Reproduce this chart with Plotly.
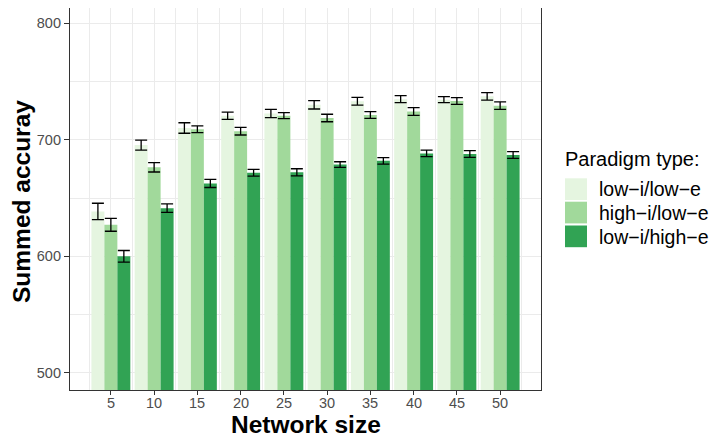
import plotly.graph_objects as go

network_size = [5, 10, 15, 20, 25, 30, 35, 40, 45, 50]
series_names = ["low\u2212i/low\u2212e", "high\u2212i/low\u2212e", "low\u2212i/high\u2212e"]
low_i_low_e = [638.5, 695.4, 710.0, 720.6, 722.5, 729.9, 733.0, 734.7, 734.3, 737.2]
low_i_low_e_se = [7.0, 4.3, 4.5, 3.1, 3.5, 3.6, 3.3, 3.0, 2.6, 3.2]
high_i_low_e = [627.0, 676.3, 708.9, 707.3, 720.6, 718.6, 721.2, 724.2, 733.2, 729.2]
high_i_low_e_se = [5.5, 4.0, 2.9, 3.3, 2.6, 3.2, 2.9, 3.3, 2.9, 3.2]
low_i_high_e = [600.0, 641.3, 662.5, 671.7, 672.0, 678.7, 681.9, 688.2, 687.8, 686.9]
low_i_high_e_se = [5.0, 3.6, 3.5, 2.9, 3.1, 2.4, 2.8, 2.8, 2.9, 2.9]
colors = ["#e5f5e0", "#a1d99b", "#31a354"]
y_ticks = [500, 600, 700, 800]

series = [low_i_low_e, high_i_low_e, low_i_high_e]
ses = [low_i_low_e_se, high_i_low_e_se, low_i_high_e_se]

fig = go.Figure()
for name, vals, se, col in zip(series_names, series, ses, colors):
    fig.add_trace(go.Bar(
        x=network_size, y=vals, name=name, marker=dict(color=col, line=dict(width=0)),
        error_y=dict(type="data", array=se, visible=True, color="black", thickness=1.3, width=6),
        showlegend=False,
    ))

font_family = "Liberation Sans, Arial, sans-serif"
# page has an 8px body margin: figure is 712x431 and positioned accordingly
PH = 382.0  # plot height in px
fig.update_layout(
    width=712, height=431,
    margin=dict(l=62, r=179, t=0, b=49),
    paper_bgcolor="white", plot_bgcolor="white",
    barmode="group", bargap=0.1, bargroupgap=0,
    font=dict(family=font_family, color="#4d4d4d"),
    xaxis=dict(
        range=[0.275, 54.725], tickvals=network_size, showticklabels=False,
        showgrid=True, gridcolor="#ebebeb", gridwidth=1.1,
        minor=dict(tickvals=[2.5 + 5 * i for i in range(11)], showgrid=True, gridcolor="#ebebeb", gridwidth=0.6, ticks=""),
        showline=True, linecolor="#333333", linewidth=1.2, mirror=True,
        ticks="outside", ticklen=4, tickcolor="#333333", tickwidth=1.1,
        zeroline=False,
    ),
    yaxis=dict(
        range=[485.4, 812.9], tickvals=y_ticks,
        showgrid=True, gridcolor="#ebebeb", gridwidth=1.1,
        minor=dict(tickvals=[550, 650, 750], showgrid=True, gridcolor="#ebebeb", gridwidth=0.6, ticks=""),
        showline=True, linecolor="#333333", linewidth=1.2, mirror=True,
        ticks="outside", ticklen=5, tickcolor="#333333", tickwidth=1.1,
        tickfont=dict(size=14.5, color="#4d4d4d"),
        zeroline=False,
    ),
)

# X tick labels placed just under the ticks
for v in network_size:
    fig.add_annotation(xref="x", yref="paper", x=v, y=(PH - 386) / PH,
                       text=str(v), showarrow=False, xanchor="center", yanchor="top",
                       borderpad=0,
                       font=dict(size=14.5, color="#4d4d4d", family=font_family))

# Axis titles
fig.add_annotation(xref="paper", yref="paper", x=0.5, y=(PH - 417) / PH,
                   text="<b>Network size</b>", showarrow=False, xanchor="center", yanchor="middle",
                   borderpad=0,
                   font=dict(size=24.5, color="black", family=font_family))
fig.add_annotation(xref="paper", yref="paper", x=(13 - 62) / 471, y=(PH - 194) / PH,
                   text="<b>Summed accuray</b>", showarrow=False, textangle=-90,
                   xanchor="center", yanchor="middle", borderpad=0,
                   font=dict(size=24.5, color="black", family=font_family))

# Legend drawn manually (ggplot-style keys)
fig.add_annotation(xref="paper", yref="paper", x=(563 - 70) / 471, y=(390 - 159) / PH,
                   text="Paradigm type:", showarrow=False, xanchor="left", yanchor="middle",
                   font=dict(size=20, color="black", family=font_family))
key_tops = [178.3, 201.7, 225.5]
for name, col, top in zip(series_names, colors, key_tops):
    fig.add_shape(type="rect", xref="paper", yref="paper",
                  x0=(565 - 70) / 471, x1=(587 - 70) / 471,
                  y0=(390 - top) / PH, y1=(390 - top - 21.7) / PH,
                  fillcolor=col, line=dict(width=0))
    fig.add_annotation(xref="paper", yref="paper", x=(597 - 70) / 471, y=(390 - top - 11) / PH,
                       text=name, showarrow=False, xanchor="left", yanchor="middle",
                       font=dict(size=19.5, color="black", family=font_family))

fig.write_html("out.html")
